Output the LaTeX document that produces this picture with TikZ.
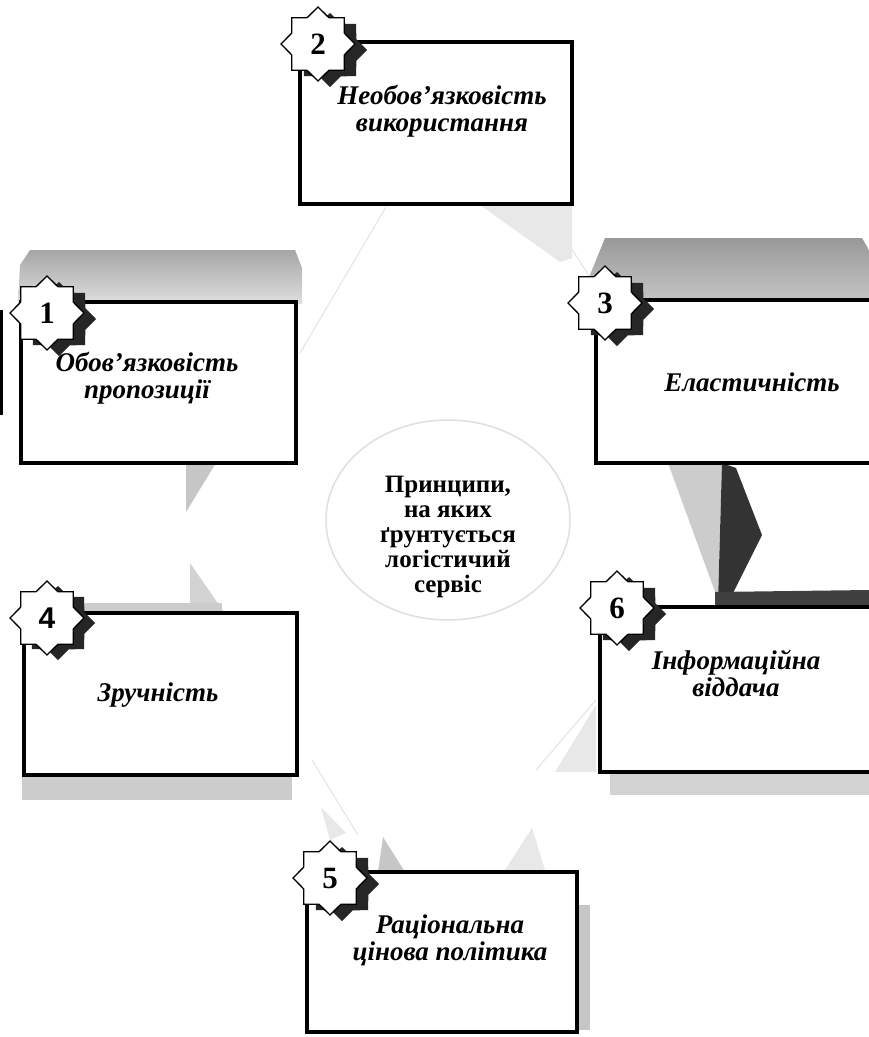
\documentclass[tikz,border=0pt]{standalone}
\usepackage{fontspec}
\setmainfont{Liberation Serif}
\newfontfamily\numsans{Liberation Sans}
\usetikzlibrary{shapes.geometric}
\begin{document}
\begin{tikzpicture}[x=1pt,y=-1pt,
  box/.style={draw=black, line width=3.8pt, fill=white, inner sep=0pt, rectangle},
  lbl/.style={align=center, font=\fontsize{27}{27}\selectfont\bfseries\itshape, inner sep=0pt},
  ctr/.style={align=center, font=\fontsize{25}{25}\selectfont\bfseries, inner sep=0pt},
  badge/.style={star, star points=8, star point ratio=1.3, minimum size=74pt, inner sep=0pt,
    draw=black, line width=1.3pt, fill=white, font=\fontsize{31}{31}\selectfont\bfseries},
  badgesh/.style={star, star points=8, star point ratio=1.3, minimum size=74pt, inner sep=0pt, fill=black!85},
  faint/.style={fill=gray!18, draw=none},
  wedge/.style={fill=gray!45, draw=none},
  fline/.style={draw=gray!22, line width=1pt}
]
\useasboundingbox (0,0) rectangle (869,1037);
\fill[white] (0,0) rectangle (869,1037);

% faint background shapes
\draw[fline] (386,207) -- (300,353);
\draw[fline] (545,207) -- (598,290);
\draw[fline] (312,760) -- (358,835);
\draw[fline] (596,700) -- (536,770);
\fill[faint] (480,205) -- (572,205) -- (572,258) -- (560,262) -- cycle;
\fill[faint] (596,705) -- (596,772) -- (555,772) -- cycle;
\fill[faint] (505,870) -- (545,870) -- (532,828) -- cycle;
\fill[faint] (321,807) -- (346,833) -- (330,840) -- cycle;
\draw[draw=gray!25, line width=1.5pt] (448,520) ellipse [x radius=122pt, y radius=100pt];

% gray wedges
\fill[wedge] (186,463) -- (216,463) -- (186,512) -- cycle;
\fill[wedge, fill=gray!35] (190,563) -- (224,612) -- (190,612) -- cycle;
\fill[wedge] (383,837) -- (405,872) -- (378,872) -- cycle;
\fill[gray!40] (668,463) -- (722,463) -- (718,600) -- cycle;
\fill[black!80] (722,463) -- (736,468) -- (762,535) -- (728,603) -- (718,603) -- cycle;

% 3D bands
\shade[top color=gray!70, bottom color=gray!25] (30,250) -- (295,250) -- (302,268) -- (302,304) -- (18,304) -- (20,265) -- cycle;
\shade[top color=gray!80, bottom color=gray!45] (605,238) -- (862,238) -- (869,250) -- (869,302) -- (592,302) -- (590,275) -- cycle;
\fill[black!75] (715,592) -- (869,590) -- (869,609) -- (715,609) -- cycle;
\fill[gray!40] (80,603) -- (222,603) -- (222,614) -- (80,614) -- cycle;
\fill[gray!40] (22,775) -- (292,775) -- (292,800) -- (22,800) -- cycle;
\fill[gray!35] (610,772) -- (869,772) -- (869,795) -- (610,795) -- cycle;
\fill[gray!45] (575,905) -- (590,905) -- (590,1030) -- (575,1030) -- cycle;

% left edge bar
\fill[black] (0,310) rectangle (2.8,415);

% boxes
\node[box, minimum width=272pt, minimum height=162pt] (b2) at (436,123) {};
\node[box, minimum width=275pt, minimum height=161pt] (b1) at (158.5,382.5) {};
\node[box, minimum width=290pt, minimum height=163pt] (b3) at (741,381.5) {};
\node[box, minimum width=273pt, minimum height=162pt] (b4) at (160.5,694) {};
\node[box, minimum width=285pt, minimum height=165pt] (b6) at (742.5,689.5) {};
\node[box, minimum width=270pt, minimum height=160pt] (b5) at (442,952) {};

% labels
\node[lbl] (t2) at (442,111) {Необов’язковість\\використання};
\node[lbl] (t1) at (147,378) {Обов’язковість\\пропозиції};
\node[lbl] (t3) at (752,382) {Еластичність};
\node[lbl] (t4) at (158,695) {Зручність};
\node[lbl] (t6) at (736,673) {Інформаційна\\віддача};
\node[lbl] (t5) at (450,940) {Раціональна\\цінова політика};
\node[ctr] (tc) at (448,537) {Принципи,\\на яких\\ґрунтується\\логістичий\\сервіс};

% badges
\node[badgesh] (sh2) at (330,50) {};
\node[badgesh] (sh1) at (59,319) {};
\node[badgesh] (sh3) at (617,309) {};
\node[badgesh] (sh4) at (58,623) {};
\node[badgesh] (sh6) at (629,614) {};
\node[badgesh] (sh5) at (342,884) {};
\node[badge] (s2) at (318,44) {2};
\node[badge] (s1) at (47,313) {1};
\node[badge] (s3) at (605,303) {3};
\node[badge, font=\fontsize{30}{30}\selectfont\bfseries\numsans] (s4) at (47,618) {4};
\node[badge] (s6) at (617,608) {6};
\node[badge] (s5) at (330,878) {5};
\end{tikzpicture}
\end{document}
